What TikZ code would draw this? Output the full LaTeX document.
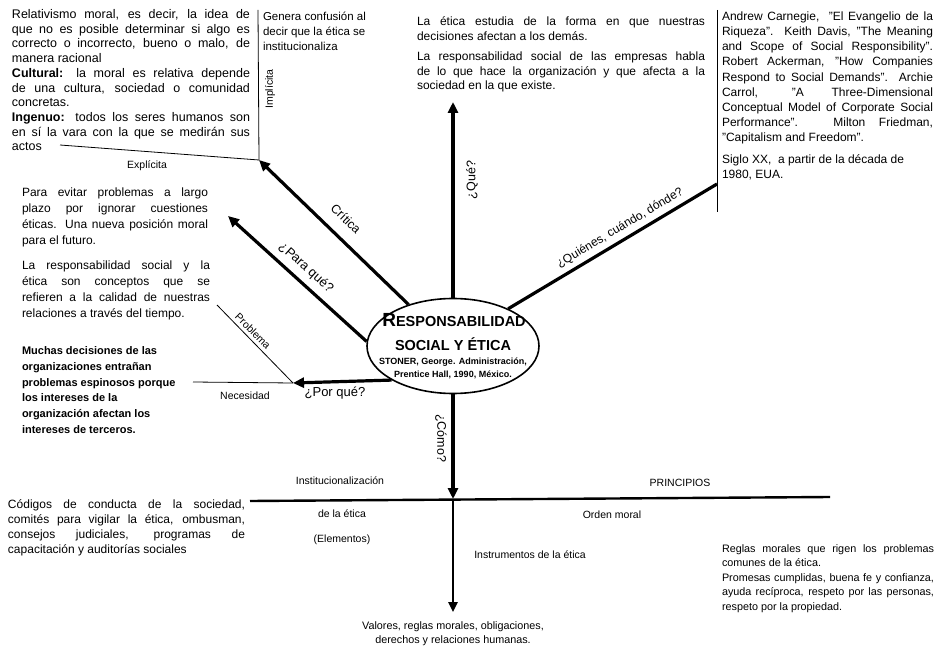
\documentclass[tikz,border=0pt]{standalone}
\usepackage{fontspec}
\setmainfont{Liberation Sans}
\usetikzlibrary{arrows.meta,shapes.geometric}
\newcommand{\myfs}[2]{\fontsize{#1}{#2}\selectfont}
\tolerance=10000
\hbadness=10000
\begin{document}
\begin{tikzpicture}[x=1pt,y=-1pt,
  txt/.style={anchor=north west, inner sep=0pt, outer sep=0pt, align=justify},
  rag/.style={anchor=north west, inner sep=0pt, outer sep=0pt, align=left},
  lbl/.style={inner sep=0pt, outer sep=0pt, font=\myfs{10.5}{12}},
  albl/.style={inner sep=0pt, outer sep=0pt, font=\myfs{12.5}{14}},
  bigarrow/.style={line width=3.2pt, -{Triangle[length=11pt,width=10pt]}},
  bigline/.style={line width=3.2pt},
  midline/.style={line width=2.4pt},
  thinline/.style={line width=0.8pt},
  ellstyle/.style={ellipse, draw, line width=1.6pt, minimum width=172pt, minimum height=95pt, inner sep=0pt}
]
\useasboundingbox[fill=white] (0,0) rectangle (943,647);

% central ellipse
\node[ellstyle] (ell) at (453,346) {};
\node[inner sep=0pt, font=\bfseries\myfs{14.5}{16}] (t1) at (454,320) {{\myfs{19}{19}R}ESPONSABILIDAD};
\node[inner sep=0pt, font=\bfseries\myfs{14.5}{16}] (t2) at (453,344) {SOCIAL Y ÉTICA};
\node[inner sep=0pt, align=center, font=\bfseries\myfs{9}{13}] (t3) at (453,368) {STONER, George. Administración,\\Prentice Hall, 1990, México.};

% text blocks
\node[txt, text width=238pt, font=\myfs{12.5}{14.7}] (tl) at (12,9.5)
 {Relativismo moral, es decir, la idea de\linebreak que no es posible determinar si algo es\linebreak correcto o incorrecto, bueno o malo, de\linebreak manera racional\par
  \textbf{Cultural:} la moral es relativa depende\linebreak de una cultura, sociedad o comunidad\linebreak concretas.\par
  \textbf{Ingenuo:} todos los seres humanos son\linebreak en sí la vara con la que se medirán sus\linebreak actos};

\node[rag, font=\myfs{11.5}{15}] (gen) at (263,12.5)
 {Genera confusión al\\decir que la ética se\\institucionaliza};
\node[lbl, rotate=90] (impl) at (270,89) {Implícita};

\node[txt, text width=288pt, font=\myfs{12}{14.5}] (tm) at (417,17)
 {La ética estudia de la forma en que nuestras\linebreak decisiones afectan a los demás.\par\vspace{6pt}
  La responsabilidad social de las empresas habla\linebreak de lo que hace la organización y que afecta a la\linebreak sociedad en la que existe.};

\node[txt, text width=211pt, font=\myfs{12}{15.1}] (tr) at (722,12)
 {Andrew Carnegie,\ \ "El Evangelio de la\linebreak Riqueza". Keith Davis, "The Meaning\linebreak and Scope of Social Responsibility".\linebreak Robert Ackerman, "How Companies\linebreak Respond to Social Demands". Archie\linebreak Carrol, "A Three-Dimensional\linebreak Conceptual Model of Corporate Social\linebreak Performance". Milton Friedman,\linebreak "Capitalism and Freedom".\par\vspace{7pt}
  Siglo XX,\ \ a partir de la década de\\1980, EUA.};

\node[txt, text width=186pt, font=\myfs{12}{16}] (lm1) at (22,187.5)
 {Para evitar problemas a largo\linebreak plazo por ignorar cuestiones\linebreak éticas. Una nueva posición moral\linebreak para el futuro.};

\node[txt, text width=188pt, font=\myfs{12}{16}] (lm2) at (22,260.5)
 {La responsabilidad social y la\linebreak ética son conceptos que se\linebreak refieren a la calidad de nuestras\linebreak relaciones a través del tiempo.};

\node[rag, font=\bfseries\myfs{11}{15.8}] (lm3) at (22,346.5)
 {Muchas decisiones de las\\organizaciones entrañan\\problemas espinosos porque\\los intereses de la\\organización afectan los\\intereses de terceros.};

\node[txt, text width=237pt, font=\myfs{12}{15}] (bl) at (8,499.5)
 {Códigos de conducta de la sociedad,\linebreak comités para vigilar la ética, ombusman,\linebreak consejos judiciales, programas de\linebreak capacitación y auditorías sociales};

\node[txt, text width=212pt, font=\myfs{10.8}{14.5}] (br) at (722,544.5)
 {Reglas morales que rigen los problemas\linebreak comunes de la ética.\par
  Promesas cumplidas, buena fe y confianza,\linebreak ayuda recíproca, respeto por las personas,\linebreak respeto por la propiedad.};

\node[inner sep=0pt, align=center, font=\myfs{10.8}{14}] (val) at (453,634)
 {Valores, reglas morales, obligaciones,\\derechos y relaciones humanas.};

% small labels
\node[lbl] (expl) at (147,166) {Explícita};
\node[lbl] (inst) at (340,481) {Institucionalización};
\node[lbl] (dela) at (342,514) {de la ética};
\node[lbl] (elem) at (342,540) {(Elementos)};
\node[lbl] (prin) at (680,483) {PRINCIPIOS};
\node[lbl] (orden) at (612,515) {Orden moral};
\node[lbl] (instr) at (530,555) {Instrumentos de la ética};
\node[lbl] (nec) at (245,396) {Necesidad};
\node[lbl, rotate=-45] (prob) at (253,331) {Problema};

% arrow labels
\node[albl, rotate=-44] (lcrit) at (346,219) {Crítica};
\node[albl, rotate=-42, font=\myfs{13}{14}] (lpara) at (306,268) {¿Para qué?};
\node[albl, rotate=90] (lque) at (472,180) {¿Qué?};
\node[albl, rotate=30.7, font=\myfs{12}{14}] (lquien) at (620,228) {¿Quiénes, cuándo, dónde?};
\node[albl, rotate=-90] (lcomo) at (441,438) {¿Cómo?};
\node[albl, font=\myfs{13}{14}] (lpor) at (335,393) {¿Por qué?};

% free end points
\coordinate (critEnd) at (259,160);
\coordinate (paraEnd) at (228,216);
\coordinate (porEnd) at (293,383);
\coordinate (queEnd) at (453,102);
\coordinate (cross) at (453,499);
\coordinate (bottomEnd) at (453,612);
\coordinate (quienEnd) at (717,184);
\coordinate (hlL) at (250,501);
\coordinate (hlR) at (830,497);
\coordinate (necL) at (193,382);
\coordinate (probTop) at (217,305);
\coordinate (explL) at (60,145);
\coordinate (implTop) at (258,10);
\coordinate (rbTop) at (717,10);
\coordinate (rbBot) at (717,212);

% connectors
\draw[bigarrow] (ell.137) -- (critEnd);
\draw[bigarrow] (ell.177) -- (paraEnd);
\draw[bigarrow] (ell.209) -- (porEnd);
\draw[bigarrow] (ell.north) -- (queEnd);
\draw[bigarrow] (ell.south) -- (cross);
\draw[midline, -{Triangle[length=10pt,width=9pt]}] (cross) -- (bottomEnd);
\draw[bigline] (ell.34) -- (quienEnd);
\draw[midline] (hlL) -- (hlR);
\draw[thinline] (necL) -- (porEnd);
\draw[thinline] (probTop) -- (porEnd);
\draw[thinline] (explL) -- (critEnd);
\draw[thinline] (implTop) -- (critEnd);
\draw[thinline] (rbTop) -- (rbBot);
\end{tikzpicture}
\end{document}
